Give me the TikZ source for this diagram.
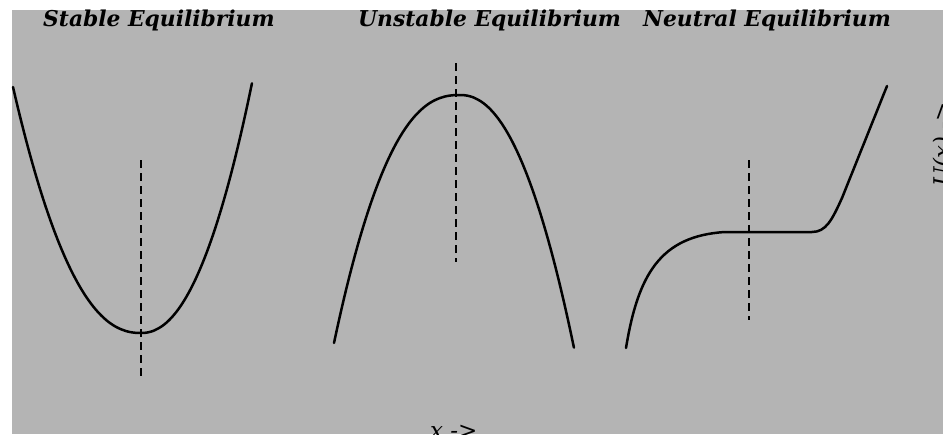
\documentclass[tikz,border=0pt]{standalone}
\usepackage{fontspec}
\setmainfont{DejaVu Serif}
\definecolor{bggray}{RGB}{180,180,180}
\tikzset{
  curve/.style={line width=2.5pt, black, line join=round, line cap=round},
  axisline/.style={line width=1.2pt, black, dash pattern=on 8pt off 5pt},
  titletext/.style={anchor=base west, inner sep=0pt, font=\fontsize{21.8}{24}\selectfont\bfseries\itshape},
  axistext/.style={inner sep=0pt, font=\fontsize{23}{26}\selectfont\itshape}
}
\begin{document}
\begin{tikzpicture}[x=1pt,y=-1pt]
\useasboundingbox (0,0) rectangle (943,434);
\fill[white] (0,0) rectangle (943,434);
\fill[bggray] (12,10) rectangle (943,434);

% titles
\node[titletext] (tstable) at (43,26) {Stable Equilibrium};
\node[titletext] (tunstable) at (358,26) {Unstable Equilibrium};
\node[titletext] (tneutral) at (643,26) {Neutral Equilibrium};

% axis labels
\node[axistext, anchor=base west] (xlab) at (430,438) {x ->};
\node[axistext, anchor=base west, rotate=90] (ulab) at (950,187) {U(x) ->};

% stable
\draw[curve] plot[domain=1:0.001, samples=60, variable=\t] ({141-128*\t},{333-246*pow(\t,2.26)})
  -- plot[domain=0.001:1, samples=60, variable=\t] ({141+111*\t},{333-250*pow(\t,2.16)});
\coordinate (s1) at (141,160);
\coordinate (s2) at (141,377);
\draw[axisline] (s1) -- (s2);

% unstable
\draw[curve] plot[domain=1:0.001, samples=60, variable=\t] ({460-126*\t},{95+248*pow(\t,2.4)})
  -- plot[domain=0.001:1, samples=60, variable=\t] ({460+114*\t},{95+253*pow(\t,2.17)});
\coordinate (u1) at (456,63);
\coordinate (u2) at (456,262);
\draw[axisline] (u1) -- (u2);

% neutral
\draw[curve] (626,348) .. controls (638,275) and (660,236) .. (725,232) -- (812,232) .. controls (826,232) and (832,220) .. (842,198) -- (887,86);
\coordinate (n1) at (749,160);
\coordinate (n2) at (749,320);
\draw[axisline] (n1) -- (n2);
\end{tikzpicture}
\end{document}
